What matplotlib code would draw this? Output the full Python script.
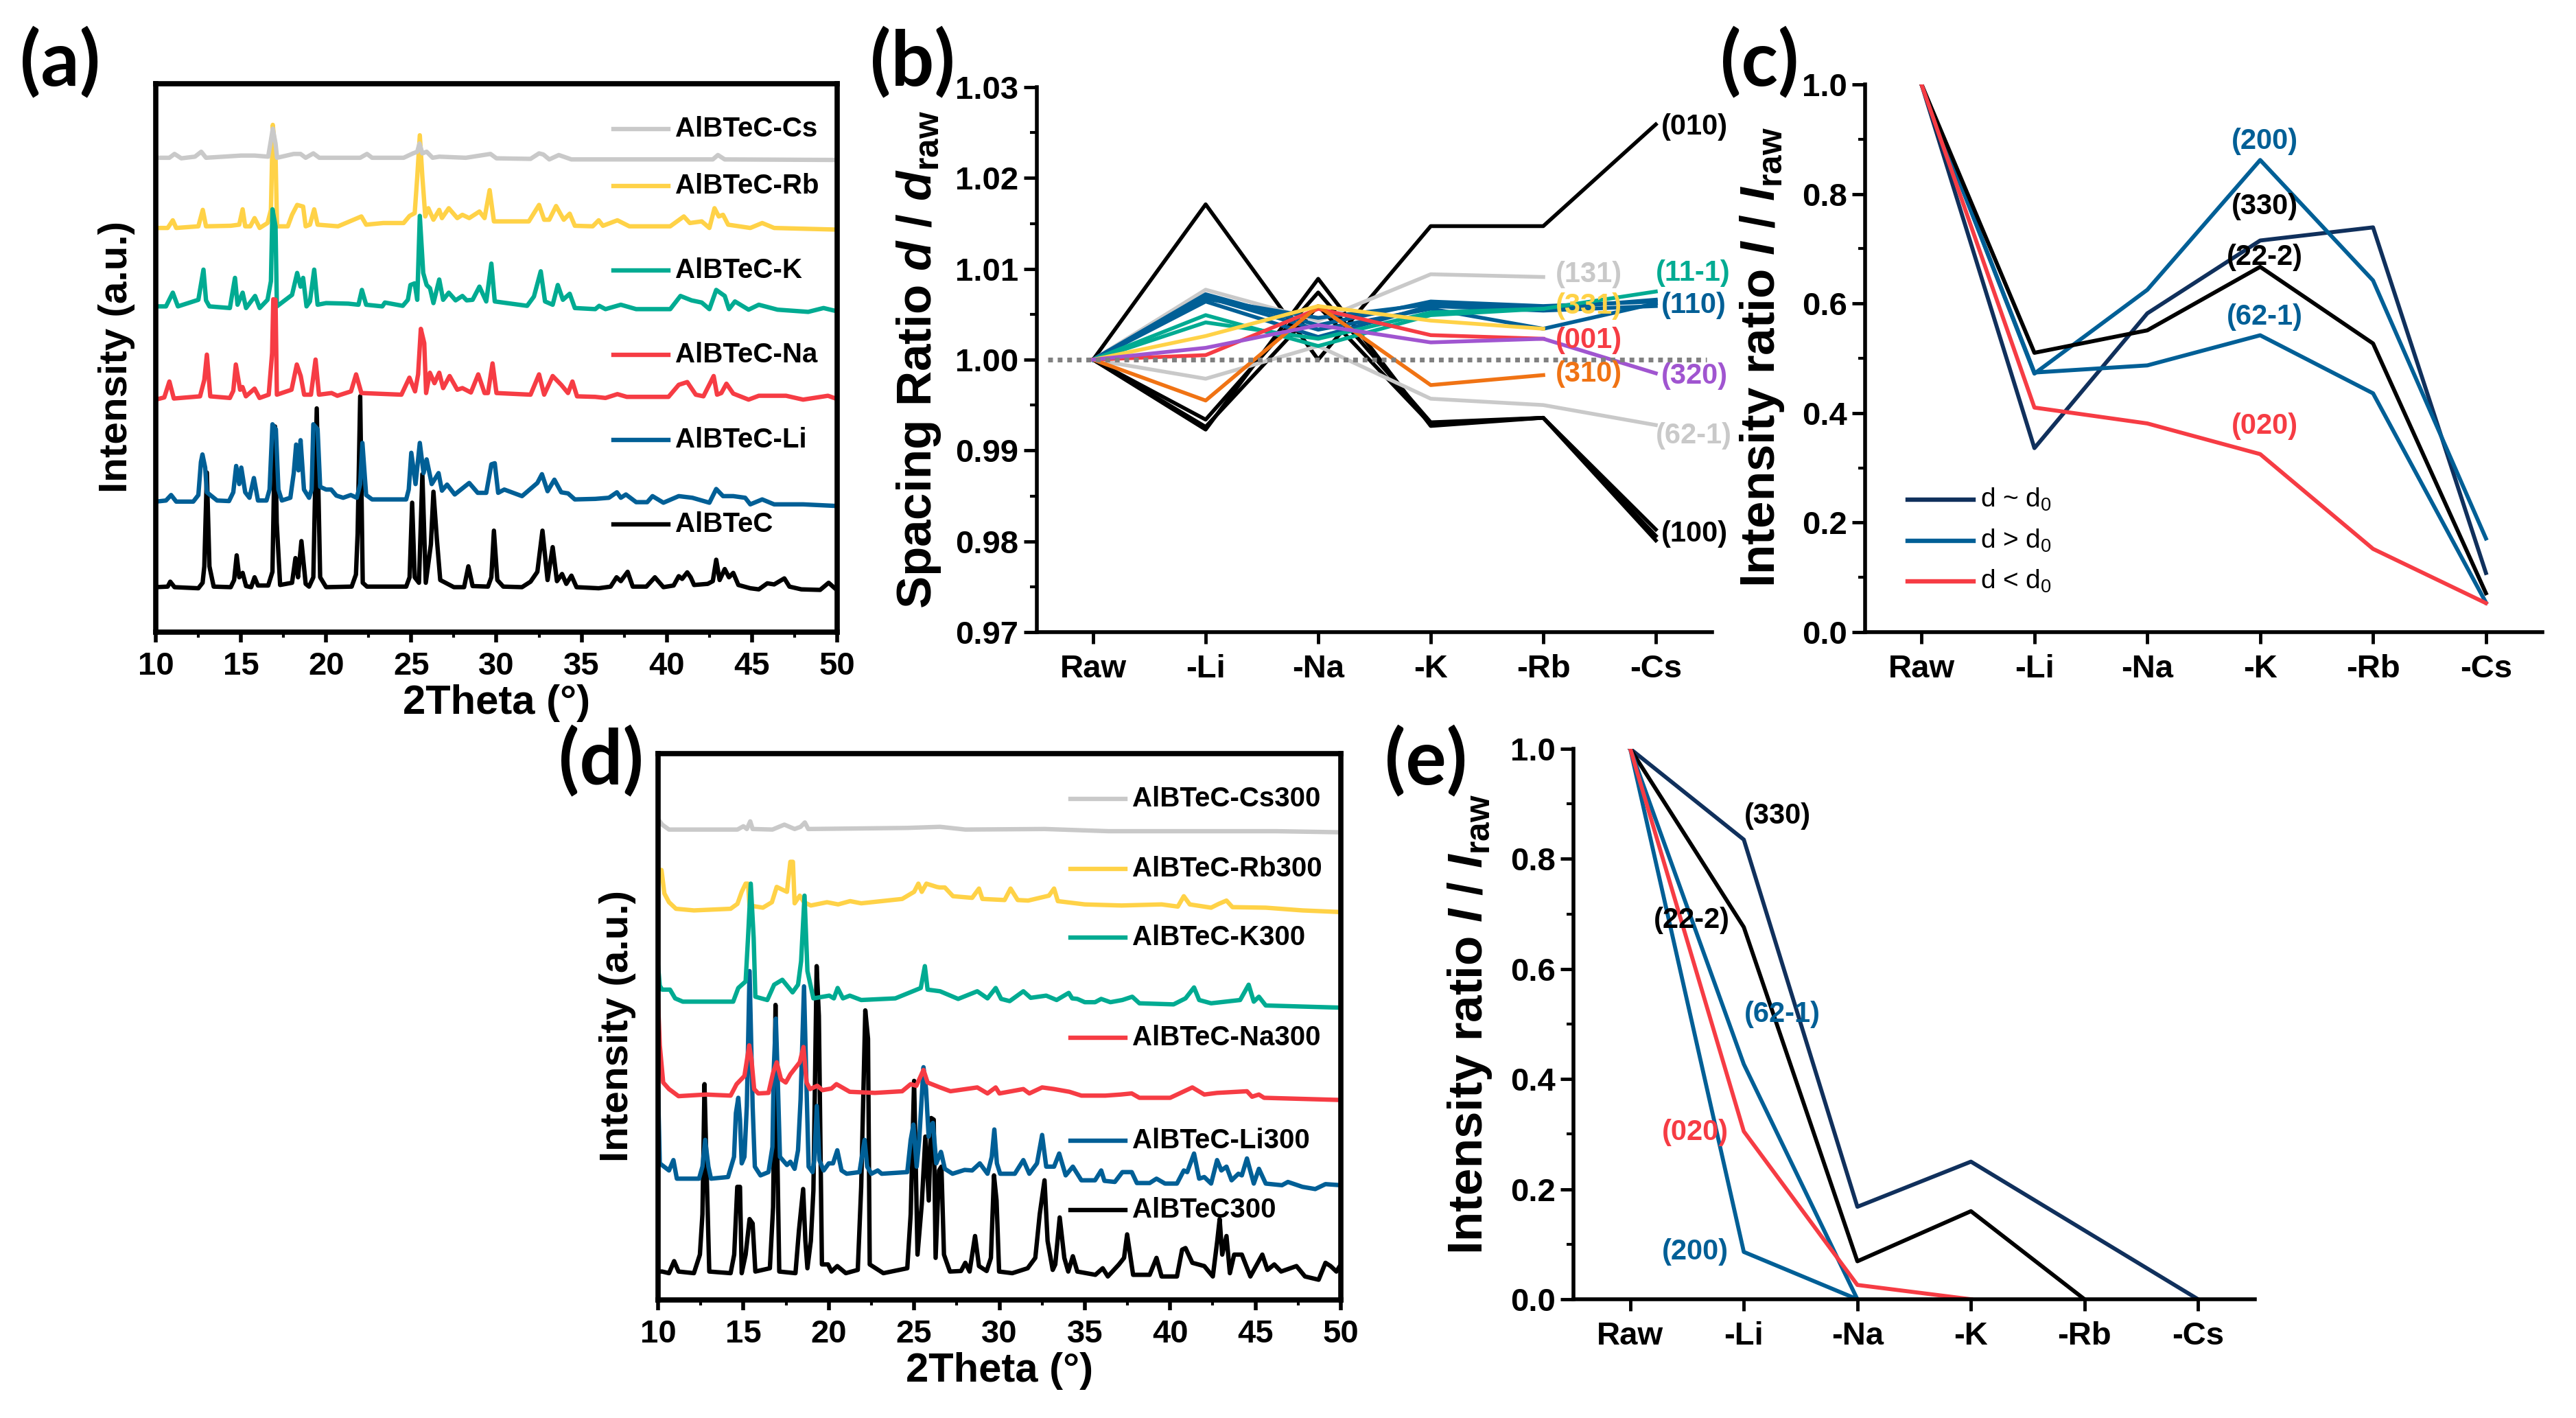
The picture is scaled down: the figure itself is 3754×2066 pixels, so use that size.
import matplotlib
matplotlib.use('Agg')
import matplotlib.pyplot as plt
from matplotlib.ticker import MultipleLocator

plt.rcParams['font.family'] = ['Liberation Sans', 'DejaVu Sans']
plt.rcParams['mathtext.fontset'] = 'custom'
plt.rcParams['mathtext.rm'] = 'Liberation Sans'
plt.rcParams['mathtext.bf'] = 'Liberation Sans:bold'
plt.rcParams['mathtext.bfit'] = 'Liberation Sans:italic:bold'

W, H = 3755, 2066

GRAY = '#c9c9c9'
YELLOW = '#ffd247'
TEAL = '#00ab92'
RED = '#f63c44'
BLUE = '#005f96'
BLACK = '#000000'
NAVY = '#10305c'
ORANGE = '#f07314'
PURPLE = '#a055d0'

# ---- panel (a) patterns, (2theta, height in % of the axis)
a_black = [(10.0, 8.2), (10.7, 8.3), (10.85, 9.2), (11.1, 8.2), (12.5, 8.0), (12.75, 9.0), (12.85, 12), (13.0, 29.1),
           (13.15, 12), (13.4, 8.3), (14.4, 8.2), (14.6, 9.5), (14.75, 14), (14.9, 10), (15.1, 10.8), (15.3, 8.4),
           (15.6, 8.2), (15.8, 10), (16.0, 8.5), (16.6, 8.5), (16.85, 11), (17.0, 37.5), (17.1, 20), (17.3, 8.6),
           (18.0, 9), (18.2, 13.5), (18.35, 10), (18.55, 16.6), (18.8, 8.8), (19.0, 8.3), (19.25, 10), (19.45, 40.8),
           (19.65, 10), (20.0, 8.2), (21.5, 8.3), (21.75, 10.5), (21.85, 18), (22.0, 43), (22.15, 9), (22.4, 8.3),
           (24.7, 8.3), (24.9, 10), (25.05, 23.6), (25.2, 10), (25.45, 9), (25.65, 28.8), (25.85, 9), (26.15, 16),
           (26.3, 25.6), (26.5, 17), (26.7, 9.5), (27.5, 8.2), (28.1, 8.2), (28.35, 12), (28.6, 8.4), (29.5, 8.3),
           (29.7, 10), (29.85, 18.5), (30.05, 9.5), (30.4, 8.3), (31.5, 8.2), (32, 9.2), (32.4, 11), (32.7, 18.5),
           (33, 9.5), (33.3, 15.5), (33.55, 9.3), (33.85, 10.6), (34.1, 8.8), (34.4, 10.3), (34.7, 8.2), (36, 8),
           (36.7, 8.3), (37.05, 10), (37.3, 9.3), (37.7, 11), (38, 8.3), (38.8, 8.3), (39.3, 10), (39.8, 8.2),
           (40.4, 8.5), (40.7, 10.2), (40.9, 9.7), (41.2, 10.9), (41.4, 10), (41.6, 8.6), (42.4, 8.8), (42.7, 9.3),
           (42.9, 13.2), (43.1, 9.5), (43.4, 11.5), (43.65, 10), (43.9, 10.8), (44.2, 8.6), (44.9, 8), (45.4, 7.8),
           (45.9, 8.9), (46.3, 8.7), (46.9, 9.8), (47.2, 8.3), (47.9, 7.8), (49, 7.7), (49.5, 9), (49.9, 7.9), (50, 7.9)]
a_li = [(10, 23.8), (10.6, 24), (10.9, 25), (11.2, 23.8), (12.2, 23.8), (12.5, 25), (12.65, 31), (12.74, 32.4), (12.9, 30),
        (13.0, 25.5), (13.2, 25), (13.6, 24), (14.3, 23.9), (14.55, 25.5), (14.72, 30.3), (14.9, 27), (15.02, 30),
        (15.25, 25.5), (15.5, 24.5), (15.76, 28.1), (16.0, 24), (16.5, 24), (16.68, 26), (16.85, 37.9), (17.05, 37),
        (17.2, 26), (17.4, 24), (17.9, 24.5), (18.1, 29), (18.24, 34.2), (18.38, 29.5), (18.5, 35), (18.7, 26), (19, 24.5),
        (19.15, 26), (19.25, 37.9), (19.5, 37), (19.65, 26.5), (20, 26), (20.3, 26), (20.6, 24.9), (21, 24.5), (21.45, 25),
        (21.8, 24.5), (22, 27), (22.13, 34.5), (22.35, 25), (22.7, 24.2), (24.7, 24.2), (24.85, 26), (25.0, 32.7),
        (25.25, 27), (25.5, 34.5), (25.72, 29), (25.9, 31.5), (26.2, 27), (26.6, 29), (26.8, 25.8), (27.1, 26.9), (27.55, 25.1),
        (28.4, 27.2), (28.9, 25.4), (29.4, 25.4), (29.7, 30.6), (29.9, 30.8), (30.1, 25.4), (30.46, 26), (31.5, 24.8),
        (32.4, 27.2), (32.67, 28.8), (33, 25.7), (33.4, 27.8), (33.8, 25.5), (34.2, 25.3), (34.6, 24.2), (35.8, 24.3),
        (36.6, 24.5), (37.07, 25.5), (37.3, 24.5), (37.6, 25.1), (38.2, 23.7), (38.85, 23.7), (39.16, 24.8), (39.8, 23.6),
        (40.7, 24.8), (41.5, 24.5), (42.5, 23.6), (42.9, 26.1), (43.3, 24.8), (43.9, 24.8), (44.6, 24.5), (44.9, 23.3),
        (45.6, 24.2), (46.3, 23.3), (48, 23.3), (50, 23)]
a_na = [(10, 42.4), (10.5, 42.8), (10.8, 45.7), (11.06, 42.6), (12.6, 43), (12.85, 46), (13.0, 50.6), (13.2, 43), (14.35, 42.7),
        (14.55, 44), (14.7, 48.8), (14.95, 44.2), (15.09, 44.7), (15.29, 43), (15.8, 44.4), (16.09, 42.7), (16.63, 43.3),
        (16.83, 50.9), (16.9, 60.7), (17.03, 60.6), (17.11, 43.3), (17.97, 44.2), (18.28, 48.8), (18.51, 46.7), (18.71, 43.3),
        (19.11, 43.3), (19.38, 49.7), (19.58, 43.3), (20.32, 43.6), (20.66, 43.1), (21.46, 43.9), (21.76, 47), (22.07, 43.6),
        (24.42, 43.3), (24.89, 46.4), (25.22, 43.9), (25.4, 47), (25.56, 55.3), (25.76, 52.7), (25.87, 43.6), (26.09, 47.3),
        (26.36, 45.4), (26.64, 47.3), (26.87, 44.5), (27.25, 46.7), (27.7, 44.2), (28, 44.5), (28.5, 43.7), (28.93, 47),
        (29.3, 43.6), (29.5, 43.6), (29.77, 49), (30, 43.6), (32, 43.3), (32.5, 47), (32.8, 43.3), (33.3, 46.7), (33.8, 45.1),
        (34.2, 43.6), (34.46, 45.7), (34.73, 43), (35.8, 42.9), (36.4, 42.7), (37.1, 43.4), (37.65, 42.9), (40.1, 42.9),
        (40.7, 45.1), (41.2, 45.6), (41.7, 43.3), (42.15, 43), (42.75, 46.7), (42.95, 43.3), (43.2, 43.6), (43.5, 45.3),
        (43.9, 43.5), (44.8, 42.4), (45.4, 43.1), (47, 43.1), (48, 42.4), (49.46, 43.1), (50, 42.5)]
a_k = [(10, 59.4), (10.6, 59.4), (11, 61.9), (11.3, 59.4), (12.5, 60.6), (12.8, 66.1), (12.95, 60.5), (13.15, 59.4), (14.35, 59.1),
       (14.65, 64.6), (14.8, 59.7), (15.1, 61.9), (15.3, 59.1), (15.83, 61.3), (16.1, 59.1), (16.56, 60.6), (16.76, 64),
       (16.85, 77.1), (17.03, 74), (17.11, 59.4), (18, 61.5), (18.3, 65.5), (18.5, 63), (18.65, 64.6), (18.85, 59.4), (19.05, 60.3),
       (19.3, 66.1), (19.5, 59.7), (20, 60), (21.3, 59.9), (21.9, 59.7), (22.1, 62.4), (22.35, 59.7), (23.3, 59.4), (23.45, 60.1),
       (24.5, 59.5), (24.8, 60.6), (24.95, 63.3), (25.2, 63.6), (25.35, 60.6), (25.5, 75.9), (25.7, 65.5), (25.9, 63.3), (26.1, 62.7),
       (26.3, 60), (26.64, 64.3), (26.87, 60.6), (27.2, 61.9), (27.6, 60.5), (28, 61.3), (28.25, 60.5), (28.6, 60.6), (29, 63),
       (29.4, 60.3), (29.7, 67.2), (29.9, 60.3), (31.8, 59.5), (32.2, 61.2), (32.6, 65.8), (32.85, 60.3), (33.3, 59.7), (33.6, 63.3),
       (33.9, 60.6), (34.3, 61.7), (34.6, 59.1), (35.8, 58.9), (36.03, 59.5), (36.4, 58.9), (37.3, 59.7), (38.2, 58.9), (40.2, 58.9),
       (40.8, 61.3), (41.45, 60.5), (42.05, 60.1), (42.5, 58.9), (42.9, 62.4), (43.4, 61.3), (43.65, 58.9), (44, 60.3), (44.8, 58.8),
       (45.4, 59.7), (46.5, 58.8), (48.3, 58.4), (49.2, 59.1), (50, 58.5)]
a_rb = [(10, 73.7), (10.7, 73.7), (11, 75.1), (11.2, 73.7), (12.5, 74), (12.76, 77), (12.95, 74), (14.4, 74.1), (14.9, 74.3), (15.1, 77.1),
        (15.25, 74), (15.55, 74), (15.8, 75.5), (16.1, 73.7), (16.56, 74.6), (16.76, 77), (16.87, 92.5), (17.03, 87), (17.12, 74),
        (17.75, 74), (18, 76.1), (18.3, 77.9), (18.65, 77.6), (18.8, 74), (19.05, 74.3), (19.3, 77.1), (19.5, 74.3), (20.7, 74),
        (22.07, 75.8), (22.35, 74.3), (23.35, 74.6), (24.55, 74.6), (24.9, 75.9), (25.2, 76.4), (25.35, 83), (25.5, 90.6), (25.65, 83),
        (25.73, 79.7), (25.82, 75.8), (26, 77.3), (26.3, 75.2), (26.64, 77), (26.8, 75.5), (27.2, 77.3), (27.7, 75.5), (28, 76.1),
        (28.4, 75.5), (29, 76.7), (29.3, 75.5), (29.6, 80.6), (29.85, 74.9), (31.9, 74.9), (32.5, 77.9), (32.8, 75.2), (33.1, 75.2),
        (33.5, 77.7), (33.95, 75.2), (34.3, 76.3), (34.6, 74.1), (35.65, 74), (36, 75.1), (36.25, 74.1), (37.1, 75.1), (37.8, 74),
        (40.2, 74), (41, 75.8), (41.35, 74.6), (42.05, 74.9), (42.5, 73.7), (42.8, 77.3), (43.05, 75.8), (43.3, 76.1), (43.6, 74.3),
        (44.9, 73.7), (45.6, 74.6), (46.3, 73.7), (50, 73.4)]
a_cs = [(10, 86.5), (10.8, 86.5), (11.1, 87.2), (11.5, 86.4), (12.3, 86.7), (12.67, 87.6), (12.95, 86.5), (15, 86.9), (15.8, 86.9),
        (16.6, 86.7), (16.76, 89.7), (16.87, 91.8), (17.03, 89.1), (17.12, 86.5), (18.1, 87.2), (18.5, 87.2), (18.8, 86.5), (19.25, 87.3),
        (19.6, 86.5), (22, 86.5), (22.4, 87.2), (22.7, 86.5), (24.55, 86.5), (25.1, 87.3), (25.35, 87.6), (25.48, 89.1), (25.65, 87.3),
        (25.9, 87.6), (26.25, 86.5), (26.64, 86.7), (28.2, 86.5), (29.65, 87.2), (30, 86.4), (32, 86.3), (32.5, 87.3), (32.75, 87.1),
        (33.1, 86.2), (33.66, 87), (34.4, 86.2), (42.7, 86.2), (43, 87), (43.4, 86.2), (50, 86.1)]

# ---- panel (d) patterns
d_black = [(10, 5.2), (10.24, 5.2), (10.64, 4.9), (10.94, 7.1), (11.2, 5.2), (12.1, 4.9), (12.45, 8.3), (12.6, 15.7), (12.72, 39.5),
           (12.85, 23), (13.0, 5.2), (14.25, 4.9), (14.46, 8.3), (14.64, 20.7), (14.8, 20.7), (14.9, 4.9), (15.13, 8.3), (15.36, 14.8),
           (15.54, 14), (15.7, 5.2), (16.55, 5.8), (16.74, 17), (16.88, 54), (17, 24.4), (17.1, 5.2), (18.05, 4.9), (18.25, 12.6),
           (18.5, 20.3), (18.63, 10.8), (18.75, 5.8), (18.95, 10.8), (19.1, 20), (19.29, 61.1), (19.42, 52), (19.6, 6.5), (19.96, 6.5),
           (20.16, 5.2), (20.5, 6.2), (21.0, 4.9), (21.7, 5.5), (21.9, 20.7), (22.14, 53), (22.3, 47.8), (22.4, 6.5), (23.2, 4.9),
           (24.6, 5.8), (24.8, 15.7), (25, 40.1), (25.2, 8.3), (25.45, 17.6), (25.66, 29.9), (25.86, 18.2), (26, 33.3), (26.15, 33),
           (26.26, 7.7), (26.46, 23.7), (26.6, 24.4), (26.75, 8.3), (27.1, 5.2), (27.75, 5.3), (28, 6.8), (28.25, 5.2), (28.57, 11.7),
           (28.8, 6.2), (29.25, 5.3), (29.5, 7.7), (29.68, 22.8), (29.83, 18.2), (29.98, 5.2), (30.75, 4.9), (31.65, 5.8), (32.1, 7.7),
           (32.36, 15.7), (32.64, 21.9), (32.82, 10.8), (33.12, 5.5), (33.27, 6.5), (33.53, 15.1), (33.8, 7.7), (34.03, 5.2), (34.3, 8),
           (34.56, 5.2), (35.62, 4.6), (36.05, 5.8), (36.35, 4.3), (37, 6.5), (37.3, 7.7), (37.48, 12), (37.83, 4.6), (38.8, 4.6), (39.2, 7.7),
           (39.5, 4.3), (40.4, 4.3), (40.7, 9.2), (40.9, 9.5), (41.3, 6.8), (42, 6.2), (42.5, 4.3), (42.76, 10.8), (42.9, 14.8), (43.05, 8.3),
           (43.3, 11.7), (43.5, 4.9), (43.75, 8.3), (44.2, 8.3), (44.7, 4.3), (45.4, 8.3), (45.7, 5.5), (46.1, 6.5), (46.5, 5.2), (47.4, 6.2),
           (47.9, 4.3), (48.7, 3.7), (49.1, 6.8), (49.4, 6.2), (49.74, 5.2), (50, 6.5)]
d_li = [(10.0, 38.6), (10.1, 25), (10.64, 23.7), (10.9, 25.6), (11.1, 22.2), (12.4, 22.2), (12.6, 24.4), (12.76, 29.3), (12.95, 24.4), (13.1, 22.2),
        (14.1, 22.5), (14.45, 26.2), (14.56, 34.2), (14.7, 37), (14.8, 33), (14.9, 25), (15.06, 26.2), (15.2, 35.5), (15.36, 60.2), (15.54, 35.5),
        (15.67, 24.4), (16, 22.8), (16.47, 23.4), (16.7, 28), (16.78, 42.3), (16.9, 51.5), (17.0, 41.6), (17.14, 26.2), (17.55, 24.7), (17.75, 25.3),
        (18, 24), (18.2, 27.4), (18.35, 36.7), (18.55, 57.4), (18.7, 38.6), (18.82, 24.4), (19.05, 23.4), (19.15, 25.6), (19.3, 35.5), (19.45, 25.6),
        (19.7, 23.7), (20, 25), (20.25, 25), (20.5, 27.4), (20.75, 23.7), (21.05, 23.1), (21.8, 23.4), (21.97, 26.8), (22.1, 29.3), (22.25, 24.4),
        (22.5, 23.1), (22.87, 23.7), (23.1, 23.1), (24.6, 23.4), (24.8, 29.3), (24.96, 32.1), (25.15, 24.4), (25.3, 29.3), (25.55, 42.6), (25.7, 38.6),
        (25.85, 29.9), (25.95, 31.8), (26.1, 32.4), (26.3, 25), (26.57, 27.1), (26.6, 26.8), (26.8, 24), (27.25, 23.1), (27.96, 23.8), (28.4, 23.7),
        (28.85, 25), (29.3, 23.1), (29.55, 26.2), (29.7, 31.2), (29.85, 25), (30.04, 23.1), (30.9, 23.1), (31.4, 25.6), (31.75, 23.1), (32.2, 25),
        (32.5, 30.2), (32.74, 24.4), (33.2, 24.4), (33.5, 26.8), (33.88, 22.8), (34.3, 24.4), (34.8, 21.9), (35.6, 21.9), (35.96, 23.7), (36.15, 21.8),
        (36.76, 21.6), (37.2, 23.4), (37.75, 23.4), (38.05, 21.4), (38.8, 21.4), (39.2, 22.2), (39.7, 21.3), (40.4, 21.3), (40.8, 23.7), (41.0, 23.4),
        (41.4, 26.8), (41.7, 22.2), (42, 22.5), (42.4, 21.3), (42.75, 25.6), (43, 23.7), (43.3, 24.4), (43.6, 21.9), (44, 23.1), (44.2, 22.8), (44.5, 25.9),
        (44.9, 21.3), (45.2, 24), (45.6, 21.3), (46.55, 21), (46.9, 21.6), (47.75, 20.7), (48.5, 20.3), (49.1, 21.2), (50, 21)]
d_na = [(10.0, 54.6), (10.1, 46.6), (10.3, 39.8), (10.64, 38.6), (11.2, 37.3), (12.8, 37.6), (14.25, 37.4), (14.6, 39.5), (15.06, 41), (15.34, 46.6),
        (15.47, 44.1), (15.63, 38.6), (15.87, 37.8), (16.47, 37.9), (16.74, 41.6), (16.95, 43.5), (17.2, 40.4), (17.48, 39.8), (17.75, 41.3), (18.3, 43.5),
        (18.52, 46.3), (18.7, 39.8), (18.9, 38.6), (19.33, 39.2), (19.63, 38.4), (20.16, 38.7), (20.45, 39.5), (21.23, 38.1), (22.7, 37.9), (24.3, 38.2),
        (24.8, 39.5), (25.13, 39.2), (25.55, 42.1), (25.79, 39.8), (26.52, 38.9), (27.13, 38.2), (28.7, 38.9), (29.3, 37.8), (29.78, 38.9), (30, 37.8),
        (31.4, 38.6), (31.75, 37.8), (32.5, 38.9), (33.2, 38.6), (34.1, 38.1), (34.8, 37.4), (36.2, 37.4), (37.1, 37.6), (37.75, 37.8), (38.2, 37),
        (40, 37), (41.3, 38.9), (42, 37.6), (42.75, 37.9), (44.5, 38.2), (44.8, 37.2), (45.2, 37.6), (45.5, 37), (47.75, 36.8), (50, 36.6)]
d_k = [(10.0, 61.2), (10.1, 57.5), (10.24, 56.8), (10.7, 56.8), (11, 55.2), (11.45, 54.6), (14.4, 54.6), (14.7, 57.1), (15.13, 58.3), (15.27, 66.3),
       (15.43, 76.2), (15.6, 66.3), (15.7, 55.5), (16.4, 54.9), (16.8, 57.7), (17.28, 58.6), (17.88, 56.3), (18.2, 57.7), (18.38, 62), (18.58, 74),
       (18.75, 60.2), (19.1, 55.2), (20.03, 55.7), (20.3, 55.2), (20.52, 57.1), (20.83, 55.2), (21.23, 55.7), (21.9, 54.9), (23.9, 55.2), (25, 56.6),
       (25.39, 57.1), (25.63, 61.1), (25.79, 56.8), (26.52, 56.5), (27.58, 55.1), (28.7, 56.5), (29.3, 55.2), (29.78, 57.1), (30.1, 55.1), (30.6, 54.7),
       (31.4, 56.5), (31.83, 55.3), (32.74, 55.7), (33.35, 54.9), (34.06, 56.2), (34.26, 55.2), (34.56, 55.1), (35, 54.5), (35.6, 54.5), (35.96, 55.1),
       (36.5, 54.5), (37.2, 54.9), (37.78, 55.5), (38.2, 54.3), (40.2, 54.1), (40.9, 55.2), (41.4, 57.2), (41.7, 54.9), (42.4, 54.3), (44.1, 54.9),
       (44.6, 57.7), (44.9, 54.6), (45.2, 55.5), (45.6, 53.9), (47.75, 53.7), (50, 53.5)]
d_rb = [(10.0, 78.7), (10.2, 78.7), (10.37, 74.4), (10.64, 72.8), (11.05, 71.6), (12.1, 71.3), (14.25, 71.6), (14.65, 72.5), (14.9, 74.7), (15.13, 76.2),
        (15.27, 76.2), (15.36, 72.2), (16.14, 71.8), (16.67, 72.8), (16.95, 75.6), (17.55, 74.7), (17.75, 80.2), (17.9, 80.2), (18, 72.6), (18.3, 74),
        (18.55, 72.8), (18.95, 72.2), (19.9, 72.8), (20.55, 72.4), (21.25, 73), (21.9, 72.6), (24.3, 73.4), (25, 74.7), (25.25, 76.2), (25.45, 74.7),
        (25.72, 76.2), (26.33, 75.6), (26.5, 75.5), (26.8, 75.5), (27.28, 73.9), (28.4, 73.6), (28.8, 75.3), (29, 73.4), (30.3, 73.2), (30.65, 75.3),
        (31.07, 73.2), (31.68, 73.1), (32.9, 74), (33.2, 75.3), (33.42, 73), (35, 72.4), (37.15, 72.2), (39.5, 72.4), (40.45, 72), (40.8, 73.9), (41.15, 72.4),
        (42.4, 71.8), (42.85, 72.5), (43.3, 73.1), (43.65, 71.9), (45.6, 71.8), (47.75, 71.3), (50, 71)]
d_cs = [(10.03, 87.9), (10.24, 87), (10.64, 86.1), (14.65, 86.1), (15, 86.7), (15.2, 86.2), (15.4, 87.6), (15.54, 86.2), (16.7, 86.1), (17.4, 87),
        (18.0, 86.2), (18.35, 86.6), (18.6, 87.4), (18.8, 86.2), (24.6, 86.4), (26.52, 86.6), (28, 86.1), (32.65, 86.2), (36.4, 85.8), (46.2, 85.8), (50, 85.6)]

a_names = ['AlBTeC-Cs', 'AlBTeC-Rb', 'AlBTeC-K', 'AlBTeC-Na', 'AlBTeC-Li', 'AlBTeC']
d_names = ['AlBTeC-Cs300', 'AlBTeC-Rb300', 'AlBTeC-K300', 'AlBTeC-Na300', 'AlBTeC-Li300', 'AlBTeC300']
key_colors = [GRAY, YELLOW, TEAL, RED, BLUE, BLACK]

# ---- categories and ratio panels
cats = ['Raw', '-Li', '-Na', '-K', '-Rb', '-Cs']

b_010 = [1.0, 1.0171, 1.0000, 1.0147, 1.0147, 1.0259]
b_100a = [1.0, 0.9923, 1.0089, 0.9927, 0.9936, 0.9801]
b_100b = [1.0, 0.9934, 1.0074, 0.9931, 0.9936, 0.9813]
b_100c = [1.0, 0.9926, 1.0059, 0.9929, 0.9936, 0.9806]
b_131 = [1.0, 1.0077, 1.0043, 1.0094, 1.0091]
b_621 = [1.0, 0.9979, 1.0015, 0.9957, 0.9950, 0.9928]
b_110a = [1.0, 1.0072, 1.0038, 1.0064, 1.0059, 1.0064]
b_110b = [1.0, 1.0064, 1.0025, 1.0059, 1.0054, 1.0059]
b_110c = [1.0, 1.0069, 1.0033, 1.0056, 1.0034, 1.0062]
b_110d = [1.0, 1.0067, 1.0046, 1.0061, 1.0056, 1.0066]
b_111a = [1.0, 1.0049, 1.0015, 1.0049, 1.0056, 1.0075]
b_111b = [1.0, 1.0041, 1.0023, 1.0052, 1.0056]
b_331 = [1.0, 1.0026, 1.0059, 1.0043, 1.0034]
b_001 = [1.0, 1.0005, 1.0056, 1.0027, 1.0023]
b_320 = [1.0, 1.0013, 1.0038, 1.0019, 1.0023, 0.9985]
b_310 = [1.0, 0.9955, 1.0059, 0.9972, 0.9983]
b_series = [(b_010, BLACK), (b_100a, BLACK), (b_100b, BLACK), (b_100c, BLACK), (b_131, GRAY), (b_621, GRAY),
            (b_110a, BLUE), (b_110b, BLUE), (b_110c, BLUE), (b_110d, BLUE), (b_111a, TEAL), (b_111b, TEAL),
            (b_001, RED), (b_310, ORANGE), (b_331, YELLOW), (b_320, PURPLE)]
b_labels = [('(010)', 5.05, 1.0256, BLACK), ('(100)', 5.05, 0.9808, BLACK), ('(11-1)', 5.0, 1.0095, TEAL),
            ('(110)', 5.05, 1.0060, BLUE), ('(320)', 5.05, 0.9982, PURPLE), ('(62-1)', 5.0, 0.9916, GRAY),
            ('(131)', 4.11, 1.0094, GRAY), ('(331)', 4.11, 1.0059, YELLOW), ('(001)', 4.11, 1.0021, RED),
            ('(310)', 4.11, 0.9984, ORANGE)]

c_330 = [1.0, 0.336, 0.582, 0.715, 0.739, 0.108]
c_222 = [1.0, 0.51, 0.551, 0.667, 0.527, 0.071]
c_200 = [1.0, 0.472, 0.625, 0.862, 0.642, 0.171]
c_621 = [1.0, 0.474, 0.487, 0.542, 0.436, 0.054]
c_020 = [1.0, 0.41, 0.381, 0.325, 0.152, 0.053]
c_labels = [('(200)', 3.04, 0.896, BLUE), ('(330)', 3.04, 0.777, BLACK), ('(22-2)', 3.04, 0.684, BLACK),
            ('(62-1)', 3.04, 0.575, BLUE), ('(020)', 3.04, 0.376, RED)]

e_330 = [1.0, 0.835, 0.168, 0.25, 0.125, 0.0]
e_222 = [1.0, 0.676, 0.069, 0.16, 0.0]
e_621 = [1.0, 0.427, 0.0]
e_200 = [1.0, 0.086, 0.0]
e_020 = [1.0, 0.305, 0.026, 0.0]
e_labels = [('(330)', 1.3, 0.878, BLACK), ('(22-2)', 0.544, 0.688, BLACK), ('(62-1)', 1.34, 0.517, BLUE),
            ('(020)', 0.574, 0.303, RED), ('(200)', 0.574, 0.086, BLUE)]


def make_axes(left, right, top, bottom):
    return fig.add_axes([left / W, 1 - bottom / H, (right - left) / W, (bottom - top) / H])


def xrd_axes(box, series, names, key_x, key_ys):
    ax = make_axes(*box)
    for pts, col in series:
        xs, ys = zip(*pts)
        ax.plot(xs, ys, color=col, lw=4.6, solid_joinstyle='round')
    ax.set_xlim(10, 50)
    ax.set_ylim(0, 100)
    ax.set_yticks([])
    ax.xaxis.set_major_locator(MultipleLocator(5))
    ax.xaxis.set_minor_locator(MultipleLocator(2.5))
    ax.tick_params(axis='x', which='major', length=11, width=4, pad=9, labelsize=34)
    ax.tick_params(axis='x', which='minor', length=6, width=3)
    for lab in ax.get_xticklabels():
        lab.set_fontweight('bold')
    for s in ax.spines.values():
        s.set_linewidth(5.5)
    ax.set_xlabel('2Theta (°)', fontsize=43, fontweight='bold', labelpad=3)
    left, right, top, bottom = box
    for name, col, ky in zip(names, key_colors, key_ys):
        y = (bottom - ky) / (bottom - top)
        ax.plot([(key_x - left) / (right - left), (key_x + 80 - left) / (right - left)], [y, y],
                color=col, lw=4.6, transform=ax.transAxes)
        ax.text((key_x + 90 - left) / (right - left), y, name, transform=ax.transAxes,
                fontsize=29, fontweight='bold', ha='left', va='center')
    return ax


def cat_axes(box, ylim, major, minor):
    ax = make_axes(*box)
    ax.set_xlim(-0.5, 5.5)
    ax.set_ylim(*ylim)
    ax.set_xticks(range(6))
    ax.set_xticklabels(cats, fontweight='bold')
    ax.yaxis.set_major_locator(MultipleLocator(major))
    ax.yaxis.set_minor_locator(MultipleLocator(minor))
    ax.spines['top'].set_visible(False)
    ax.spines['right'].set_visible(False)
    ax.spines['left'].set_linewidth(4)
    ax.spines['bottom'].set_linewidth(4)
    ax.tick_params(axis='both', which='major', length=14, width=3.5, labelsize=34, pad=5)
    ax.tick_params(axis='x', which='major', length=12, pad=11)
    ax.tick_params(axis='y', which='minor', length=7, width=3)
    for lab in ax.get_yticklabels():
        lab.set_fontweight('bold')
    return ax


fig = plt.figure(figsize=(W / 100, H / 100), dpi=100)

# (a)
ax = xrd_axes((227, 1220, 122, 921),
              [(a_black, BLACK), (a_li, BLUE), (a_rb, YELLOW), (a_k, TEAL), (a_na, RED), (a_cs, GRAY)],
              a_names, 894, [188, 271, 394, 517, 641, 764])
fig.text(170 / W, 1 - 520 / H, 'Intensity (a.u.)', rotation=90, fontsize=42, fontweight='bold', ha='center', va='center')

# (b)
ax = cat_axes((1511, 2495, 127, 921), (0.97, 1.03), 0.01, 0.005)
ax.set_yticklabels(['%.2f' % t for t in ax.get_yticks()], fontweight='bold')
ax.set_ylim(0.97, 1.03)
for vals, col in b_series:
    ax.plot(range(len(vals)), vals, color=col, lw=4)
ax.plot([-0.4, 5.45], [1.0, 1.0], color='#808080', lw=5, ls=(0, (1, 1)))
for txt, x, y, col in b_labels:
    ax.text(x, y, txt, color=col, fontsize=30, fontweight='bold', ha='left', va='center')
fig.text(1339 / W, 1 - 524 / H, r'Spacing Ratio $\mathbfit{d}$ / $\mathbfit{d}_{\mathbf{raw}}$', rotation=90,
         fontsize=51, fontweight='bold', ha='center', va='center')

# (c)
ax = cat_axes((2718, 3705, 123, 921), (0, 1.0), 0.2, 0.1)
ax.plot(c_330, color=NAVY, lw=4.2)
ax.plot(c_200, color=BLUE, lw=4.2)
ax.plot(c_621, color=BLUE, lw=4.2)
ax.plot(c_222, color=BLACK, lw=4.2)
ax.plot(c_020, color=RED, lw=4.2)
for txt, x, y, col in c_labels:
    ax.text(x, y, txt, color=col, fontsize=30, fontweight='bold', ha='center', va='center')
for txt, col, ky in zip(['d ~ d$_{0}$', 'd > d$_{0}$', 'd < d$_{0}$'], [NAVY, BLUE, RED], [728, 788, 847]):
    y = (921 - ky) / (921 - 123)
    ax.plot([(2780 - 2718) / 987, (2876 - 2718) / 987], [y, y], color=col, lw=4.6, transform=ax.transAxes)
    ax.text((2886 - 2718) / 987, y, txt, fontsize=28, transform=ax.transAxes, ha='left', va='center')
fig.text(2568 / W, 1 - 520 / H, r'Intensity ratio $\mathbfit{I}$ / $\mathbfit{I}_{\mathbf{raw}}$', rotation=90,
         fontsize=51, fontweight='bold', ha='center', va='center')

# (d)
ax = xrd_axes((959, 1954, 1098, 1894),
              [(d_black, BLACK), (d_li, BLUE), (d_rb, YELLOW), (d_k, TEAL), (d_na, RED), (d_cs, GRAY)],
              d_names, 1560, [1164, 1266, 1366, 1512, 1662, 1763])
fig.text(900 / W, 1 - 1495 / H, 'Intensity (a.u.)', rotation=90, fontsize=42, fontweight='bold', ha='center', va='center')

# (e)
ax = cat_axes((2293, 3286, 1091, 1893), (0, 1.0), 0.2, 0.1)
ax.plot(e_330, color=NAVY, lw=4.2)
ax.plot(e_222, color=BLACK, lw=4.2)
ax.plot(e_621, color=BLUE, lw=4.2)
ax.plot(e_200, color=BLUE, lw=4.2)
ax.plot(e_020, color=RED, lw=4.2)
for txt, x, y, col in e_labels:
    ax.text(x, y, txt, color=col, fontsize=30, fontweight='bold', ha='center', va='center')
fig.text(2142 / W, 1 - 1492 / H, r'Intensity ratio $\mathbfit{I}$ / $\mathbfit{I}_{\mathbf{raw}}$', rotation=90,
         fontsize=51, fontweight='bold', ha='center', va='center')

# panel letters
for txt, px, py in [('(a)', 88, 91), ('(b)', 1330, 91), ('(c)', 2564, 91), ('(d)', 876, 1109), ('(e)', 2078, 1109)]:
    fig.text(px / W, 1 - py / H, txt, fontsize=80, fontweight='bold', family='Lato', ha='center', va='center')

fig.savefig('out.png', dpi=100, facecolor='white')
